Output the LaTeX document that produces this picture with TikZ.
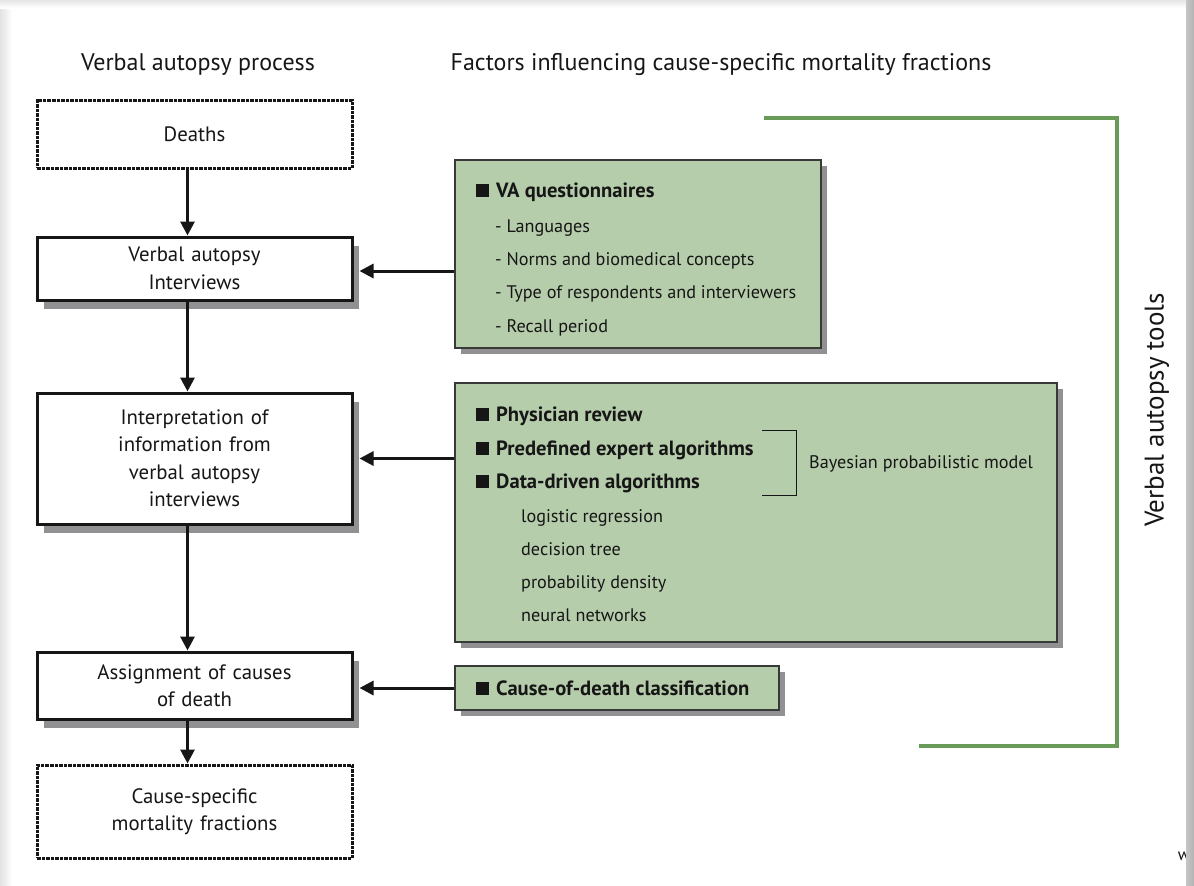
\documentclass[tikz,border=0pt]{standalone}
\usepackage{fontspec}
\setmainfont{PT Sans}
\usetikzlibrary{arrows.meta,shadows}
\definecolor{boxgreen}{RGB}{182,205,171}
\definecolor{linegreen}{RGB}{104,155,88}
\definecolor{ink}{RGB}{22,22,22}
\definecolor{shade}{RGB}{145,145,148}
\newcommand{\blt}{\rule{13pt}{13pt}\hspace{7pt}}
\tikzset{
  heading/.style={font=\fontsize{24}{28}\selectfont, text=ink, inner sep=0pt},
  procbox/.style={draw=ink, line width=3pt, fill=white, minimum width=315pt,
    text width=305pt, align=center, inner sep=0pt, text=ink,
    font=\fontsize{20.8}{27.5}\selectfont},
  endbox/.style={procbox, dash pattern=on 3.5pt off 1pt, line width=3pt},
  shadowed/.style={drop shadow={shadow xshift=7pt, shadow yshift=-9pt, fill=shade, opacity=1}},
  factorbox/.style={draw=ink!85, line width=1.3pt, fill=boxgreen, inner sep=0pt,
    drop shadow={shadow xshift=6pt, shadow yshift=-6pt, fill=shade, opacity=1}},
  item/.style={anchor=base west, inner sep=0pt, text=ink, font=\fontsize{20.6}{24}\selectfont\bfseries},
  subitem/.style={anchor=base west, inner sep=0pt, text=ink, font=\fontsize{18.2}{22}\selectfont},
  flow/.style={draw=ink, line width=3pt, -{Triangle[length=14pt,width=14pt]}},
  bracket/.style={draw=linegreen, line width=4.5pt}
}
\begin{document}
\begin{tikzpicture}[x=1pt,y=-1pt]
\useasboundingbox (0,0) rectangle (1194,886);
% page and its soft edges
\fill[white] (0,0) rectangle (1194,886);
\shade[left color=gray!22, right color=white] (0,0) rectangle (12,886);
\shade[top color=gray!20, bottom color=white] (0,0) rectangle (1194,8);

% column headings
\node[heading, anchor=base] (h1) at (198,70) {Verbal autopsy process};
\node[heading, anchor=base] (h2) at (721,70) {Factors influencing cause-specific mortality fractions};

% process chain
\node[endbox, minimum height=68pt] (deaths) at (194.5,134) {Deaths};
\node[procbox, shadowed, minimum height=63pt] (vai) at (194.5,268.5) {Verbal autopsy\\Interviews};
\node[procbox, shadowed, minimum height=131pt] (interp) at (194.5,458.5)
  {Interpretation of\\information from\\verbal autopsy\\interviews};
\node[procbox, shadowed, minimum height=67pt] (assign) at (194.5,685.5) {Assignment of causes\\of death};
\node[endbox, minimum height=93pt] (csmf) at (194.5,811.5) {Cause-specific\\mortality fractions};

% influencing factors
\node[factorbox, minimum width=366pt, minimum height=188pt] (vaq) at (638,254) {};
\node[factorbox, minimum width=602pt, minimum height=259pt] (algo) at (756,512.5) {};
\node[factorbox, minimum width=324pt, minimum height=44pt] (cls) at (617,688) {};

\node[item] (q0) at (476,197) {\blt VA questionnaires};
\node[subitem] (q1) at (495,232) {- Languages};
\node[subitem] (q2) at (495,265) {- Norms and biomedical concepts};
\node[subitem] (q3) at (495,298) {- Type of respondents and interviewers};
\node[subitem] (q4) at (495,332) {- Recall period};

\node[item] (a1) at (476,421) {\blt Physician review};
\node[item] (a2) at (476,455) {\blt Predefined expert algorithms};
\node[item] (a3) at (476,488) {\blt Data-driven algorithms};
\node[subitem] (a4) at (521,522) {logistic regression};
\node[subitem] (a5) at (521,555) {decision tree};
\node[subitem] (a6) at (521,588) {probability density};
\node[subitem] (a7) at (521,621) {neural networks};
\node[subitem] (bayes) at (809,468) {Bayesian probabilistic model};
\coordinate (bt) at (762,430);
\coordinate (bb) at (762,495);
\draw[ink, line width=1pt] (bt) -- ++(34,0) |- (bb);

\node[item] (c1) at (476,695) {\blt Cause-of-death classification};

% connectors
\draw[flow] ([xshift=-7pt]deaths.south) -- ([xshift=-7pt]vai.north);
\draw[flow] ([xshift=-7pt]vai.south) -- ([xshift=-7pt]interp.north);
\draw[flow] ([xshift=-7pt]interp.south) -- ([xshift=-7pt]assign.north);
\draw[flow] ([xshift=-7pt]assign.south) -- ([xshift=-7pt]csmf.north);
\draw[flow] ([yshift=-2.5pt]vaq.west |- vai.east) -- ([xshift=6pt,yshift=-2.5pt]vai.east);
\draw[flow] (algo.west |- interp.east) -- ([xshift=6pt]interp.east);
\draw[flow] ([yshift=-2.5pt]cls.west |- assign.east) -- ([xshift=6pt,yshift=-2.5pt]assign.east);

% tools bracket
\coordinate (gt) at (764,118);
\coordinate (gb) at (919,746);
\draw[bracket] (gt) -- (1117,118) -- (1117,746) -- (gb);
\node[heading, rotate=90, font=\fontsize{27}{30}\selectfont] (tools) at (1157,410) {Verbal autopsy tools};

% cut-off mark at the page edge
\node[inner sep=0pt, text=ink, font=\fontsize{17}{18}\selectfont] (w) at (1184,856) {w};
\shade[left color=gray!45, right color=gray!60] (1186,0) rectangle (1194,886);
\end{tikzpicture}
\end{document}
